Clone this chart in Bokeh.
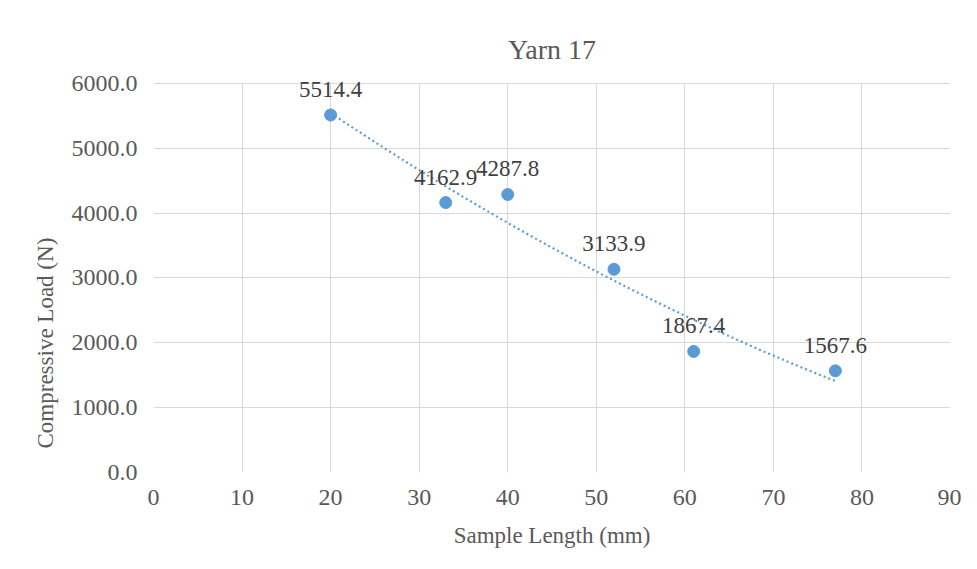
import numpy as np
from bokeh.plotting import figure
from bokeh.models import (ColumnDataSource, FixedTicker, LabelSet, NumeralTickFormatter,
                          Title, BoxAnnotation)
from bokeh.embed import file_html
from bokeh.resources import INLINE

# Data
sample_length = [20, 33, 40, 52, 61, 77]
compressive_load = [5514.4, 4162.9, 4287.8, 3133.9, 1867.4, 1567.6]
x_ticks = [0, 10, 20, 30, 40, 50, 60, 70, 80, 90]
y_ticks = [0, 1000, 2000, 3000, 4000, 5000, 6000]
y_max = 6000

FONT = "Liberation Serif"
TXT = "#595959"
GRID = "#d9d9d9"
BLUE = "#5B9BD5"

src = ColumnDataSource(dict(
    x=sample_length,
    y=compressive_load,
    lbl=[f"{v:.1f}" for v in compressive_load],
))

# polynomial (order 2) trendline, as in the original spreadsheet chart
coef = np.polyfit(sample_length, compressive_load, 2)
tx = np.linspace(min(sample_length), max(sample_length), 100)
ty = np.polyval(coef, tx)

# a little headroom above 6000 so the top data label is not clipped
p = figure(width=961, height=553, output_backend="svg", toolbar_location=None,
           x_range=(0, 90), y_range=(0, 6200), title="Yarn 17",
           min_border_left=153, min_border_right=11, min_border_top=70,
           min_border_bottom=81)
p.outline_line_color = None

p.title.text_font = FONT
p.title.text_font_size = "28px"
p.title.text_font_style = "normal"
p.title.text_color = TXT
p.title.align = "center"
p.title.standoff = 12

for ax in (p.xaxis[0], p.yaxis[0]):
    ax.axis_line_color = None
    ax.major_tick_line_color = None
    ax.minor_tick_line_color = None
    ax.major_tick_out = 0
    ax.major_tick_in = 0
    ax.minor_tick_out = 0
    ax.minor_tick_in = 0
    ax.major_label_text_font = FONT
    ax.major_label_text_font_size = "24px"
    ax.major_label_text_color = TXT
    ax.axis_label_text_font = FONT
    ax.axis_label_text_font_style = "normal"
    ax.axis_label_text_color = TXT

p.xaxis[0].ticker = FixedTicker(ticks=x_ticks)
p.yaxis[0].ticker = FixedTicker(ticks=y_ticks)
p.yaxis[0].formatter = NumeralTickFormatter(format="0.0")
p.xaxis[0].axis_label = "Sample Length (mm)"
p.xaxis[0].axis_label_text_font_size = "23px"
p.xaxis[0].major_label_standoff = 17
p.yaxis[0].major_label_standoff = 16
p.xaxis[0].axis_label_standoff = 15

# y-axis title as a side-panel title so it can sit below the plot centre
ytitle = Title(text="Compressive Load (N)", align="left", offset=24, standoff=21,
               text_font=FONT, text_font_size="23px", text_font_style="normal",
               text_color=TXT)
p.add_layout(ytitle, "left")

p.xgrid.ticker = FixedTicker(ticks=x_ticks)
p.ygrid.ticker = FixedTicker(ticks=y_ticks)
p.xgrid.grid_line_color = GRID
p.ygrid.grid_line_color = GRID

p.line(tx, ty, line_color=BLUE, line_width=2.2, line_dash="2 3")
p.scatter("x", "y", source=src, size=12, fill_color=BLUE, line_color=BLUE)

# blank out the vertical grid lines above the top of the value axis
p.add_layout(BoxAnnotation(bottom=y_max + 10, fill_color="white", fill_alpha=1.0,
                           line_color=None))

labels = LabelSet(x="x", y="y", text="lbl", source=src, text_align="center",
                  text_baseline="alphabetic", y_offset=18, text_font=FONT,
                  text_font_size="23px", text_color="#404040")
p.add_layout(labels)

open("out.html", "w").write(file_html(p, INLINE))
